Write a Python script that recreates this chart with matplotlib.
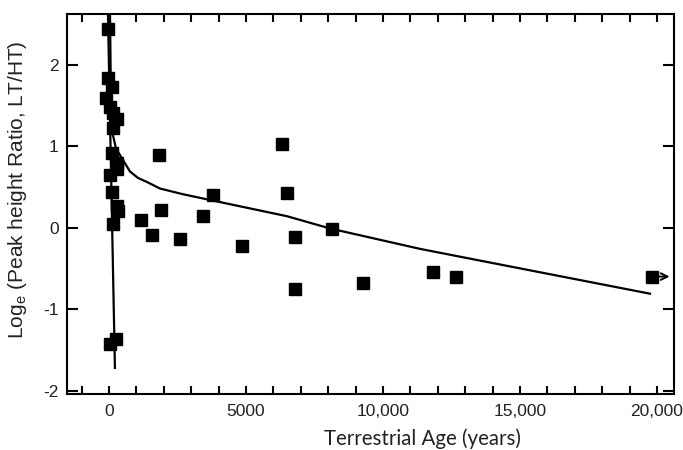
import matplotlib
matplotlib.use("Agg")
import matplotlib.pyplot as plt
from matplotlib.ticker import MultipleLocator, FixedLocator, FixedFormatter

# ---- data ----
age = [-36, -36, 109, -109, 36, 146, 292, 146,
       109, 292, 292, 36, 109, 292, 328, 146, 36, 255,
       1825, 6314, 3796, 6496, 1898, 3431, 1168, 1569, 2591,
       4854, 6788, 8139, 6788, 9270, 11825, 12664, 19818]
log_ratio = [2.44, 1.84, 1.72, 1.59, 1.48, 1.40, 1.33, 1.22,
             0.91, 0.79, 0.72, 0.65, 0.44, 0.27, 0.21, 0.04, -1.43, -1.37,
             0.89, 1.02, 0.40, 0.43, 0.22, 0.14, 0.09, -0.09, -0.14,
             -0.22, -0.11, -0.02, -0.75, -0.68, -0.54, -0.60, -0.60]

# fitted decay curve
fit_x = [40, 73, 110, 255, 474, 766, 1058, 1387, 1861, 2700, 4525, 6500, 8066, 11350, 13175, 19745]
fit_y = [2.62, 1.56, 1.19, 0.975, 0.85, 0.69, 0.61, 0.56, 0.48, 0.41, 0.28, 0.14, -0.01, -0.26, -0.38, -0.81]

# steep line
steep_x = [-36, 219]
steep_y = [2.62, -1.72]

xtick_vals = [0, 5000, 10000, 15000, 20000]
xtick_labels = ["0", "5000", "10,000", "15,000", "20,000"]
ytick_vals = [-2, -1, 0, 1, 2]
ytick_labels = ["-2", "-1", "0", "1", "2"]

fig = plt.figure(figsize=(6.83, 4.5), dpi=100)
ax = fig.add_axes([67/683, 1-394/450, (674-67)/683, (394-14)/450])

ax.plot(steep_x, steep_y, color="black", lw=1.6, zorder=2)
ax.plot(fit_x, fit_y, color="black", lw=1.6, zorder=2)
ax.plot(age, log_ratio, linestyle="none", marker="s", ms=9.2, color="black", zorder=3)

# arrow on last point
ax.annotate("", xy=(20560, log_ratio[-1]), xytext=(age[-1] + 150, log_ratio[-1]),
            arrowprops=dict(arrowstyle="->", color="black", lw=1.4, mutation_scale=12))

ax.set_xlim(-1530, 20620)
ax.set_ylim(-2.04, 2.62)

ax.xaxis.set_major_locator(FixedLocator(xtick_vals))
ax.xaxis.set_major_formatter(FixedFormatter(xtick_labels))
ax.xaxis.set_minor_locator(MultipleLocator(1000))
ax.yaxis.set_major_locator(FixedLocator(ytick_vals))
ax.yaxis.set_major_formatter(FixedFormatter(ytick_labels))

for lab in ax.get_xticklabels() + ax.get_yticklabels():
    lab.set_fontfamily("Liberation Sans")
    lab.set_fontsize(12.5)
    lab.set_color("#222222")

ax.tick_params(axis="x", which="both", direction="in", top=True, bottom=True,
               length=6, width=1.5, pad=7)
ax.tick_params(axis="y", which="both", direction="in", left=True, right=True,
               length=8, width=1.5, pad=6)

for sp in ax.spines.values():
    sp.set_linewidth(1.5)

ax.set_xlabel("Terrestrial Age (years)", fontfamily="Lato", fontsize=14.8,
              color="#222222")
ax.xaxis.set_label_coords((422 - 67) / 607, (394 - 428) / 380)
ax.set_ylabel(r"Log$_\mathregular{e}$ (Peak height Ratio, LT/HT)", fontfamily="Liberation Sans",
              fontsize=15, color="#222222")
ax.yaxis.set_label_coords((29 - 67) / 607, (394 - 190) / 380)

fig.savefig("out.png", dpi=100)
